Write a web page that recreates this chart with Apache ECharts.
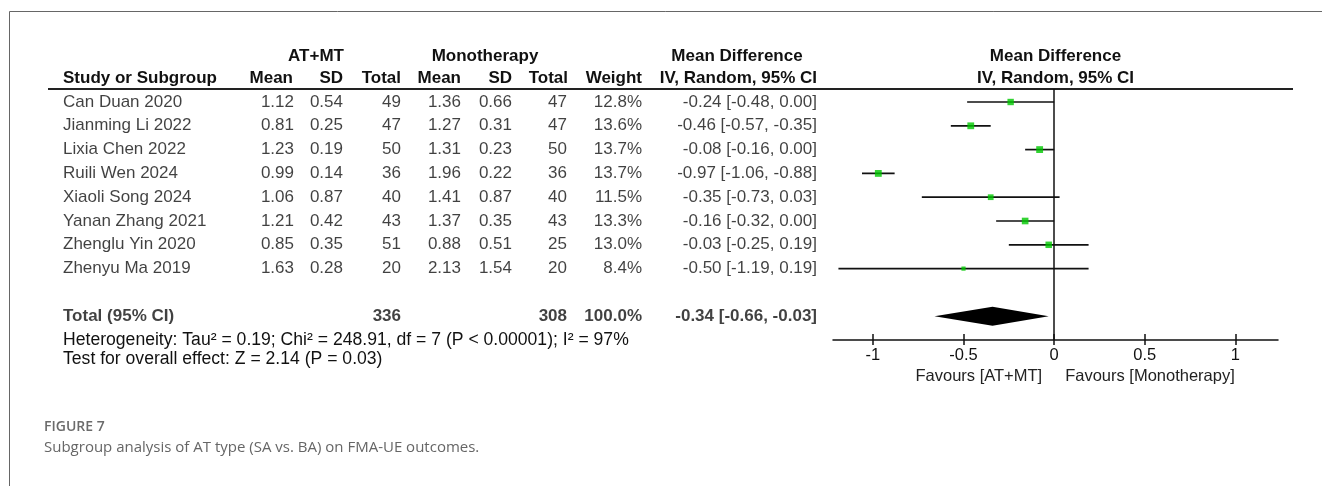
<!DOCTYPE html>
<html>
<head>
<meta charset="utf-8">
<script src="https://cdn.jsdelivr.net/npm/echarts@6/dist/echarts.min.js"></script>
<style>
  html, body { margin: 0; padding: 0; background: #fff; }
  #chart { width: 1322px; height: 486px; }
</style>
</head>
<body>
<div id="chart"></div>
<script>
// ---- Study data ----
const studies   = ['Can Duan 2020', 'Jianming Li 2022', 'Lixia Chen 2022', 'Ruili Wen 2024',
                   'Xiaoli Song 2024', 'Yanan Zhang 2021', 'Zhenglu Yin 2020', 'Zhenyu Ma 2019'];
const atMean    = [1.12, 0.81, 1.23, 0.99, 1.06, 1.21, 0.85, 1.63];
const atSD      = [0.54, 0.25, 0.19, 0.14, 0.87, 0.42, 0.35, 0.28];
const atTotal   = [49, 47, 50, 36, 40, 43, 51, 20];
const monoMean  = [1.36, 1.27, 1.31, 1.96, 1.41, 1.37, 0.88, 2.13];
const monoSD    = [0.66, 0.31, 0.23, 0.22, 0.87, 0.35, 0.51, 1.54];
const monoTotal = [47, 47, 50, 36, 40, 43, 25, 20];
const weights   = [12.8, 13.6, 13.7, 13.7, 11.5, 13.3, 13.0, 8.4];
const md        = [-0.24, -0.46, -0.08, -0.97, -0.35, -0.16, -0.03, -0.50];
const ciLow     = [-0.48, -0.57, -0.16, -1.06, -0.73, -0.32, -0.25, -1.19];
const ciHigh    = [0.00, -0.35, 0.00, -0.88, 0.03, 0.00, 0.19, 0.19];

// ---- Pooled result ----
const pooledAtTotal   = 336;
const pooledMonoTotal = 308;
const pooledWeight    = 100.0;
const pooledMd        = -0.34;
const pooledLow       = -0.66;
const pooledHigh      = -0.03;

// ---- Axis ticks ----
const xTicks = [-1, -0.5, 0, 0.5, 1];
const xMin = -1.22, xMax = 1.235;

// ---- Text ----
const heterogeneityText = 'Heterogeneity: Tau\u00b2 = 0.19; Chi\u00b2 = 248.91, df = 7 (P < 0.00001); I\u00b2 = 97%';
const overallText = 'Test for overall effect: Z = 2.14 (P = 0.03)';
const favoursLeft = 'Favours [AT+MT]';
const favoursRight = 'Favours [Monotherapy]';
const figureLabel = 'FIGURE 7';
const captionText = 'Subgroup analysis of AT type (SA vs. BA) on FMA-UE outcomes.';

// ---- Layout ----
const FONT = '"Liberation Sans", Arial, sans-serif';
const CAP_FONT = '"Open Sans", "Noto Sans", sans-serif';
const FS = 17;
const INK = '#111';
const ROW_TOP = 102, ROW_H = 23.8;
const GRID_TOP = 89, GRID_BOTTOM = 340;
const yMin = (GRID_TOP - ROW_TOP) / ROW_H;
const yMax = (GRID_BOTTOM - ROW_TOP) / ROW_H;
const TOTAL_ROW = studies.length + 1;
const PLOT_LEFT = 833, PLOT_RIGHT = 1278;

const f2 = v => v.toFixed(2);
const ciLabel = (m, l, h) => `${f2(m)} [${f2(l)}, ${f2(h)}]`;

// table columns: x position, alignment, cell text per row
const columns = [
  { x: 63,  align: 'left',  cell: i => studies[i] },
  { x: 294, align: 'right', cell: i => f2(atMean[i]) },
  { x: 343, align: 'right', cell: i => f2(atSD[i]) },
  { x: 401, align: 'right', cell: i => String(atTotal[i]) },
  { x: 461, align: 'right', cell: i => f2(monoMean[i]) },
  { x: 512, align: 'right', cell: i => f2(monoSD[i]) },
  { x: 567, align: 'right', cell: i => String(monoTotal[i]) },
  { x: 642, align: 'right', cell: i => weights[i].toFixed(1) + '%' },
  { x: 817, align: 'right', cell: i => ciLabel(md[i], ciLow[i], ciHigh[i]) }
];
const totalCells = [
  { x: 63,  align: 'left',  text: 'Total (95% CI)' },
  { x: 401, align: 'right', text: String(pooledAtTotal) },
  { x: 567, align: 'right', text: String(pooledMonoTotal) },
  { x: 642, align: 'right', text: pooledWeight.toFixed(1) + '%' },
  { x: 817, align: 'right', text: ciLabel(pooledMd, pooledLow, pooledHigh) }
];

const textSeries = (points, bold) => ({
  type: 'scatter', xAxisIndex: 2, yAxisIndex: 2, symbolSize: 0, silent: true,
  data: points.map(p => ({
    value: [p.x, p.row],
    label: {
      show: true, position: p.align === 'left' ? 'right' : 'left', distance: 0,
      formatter: p.text, color: INK, fontFamily: FONT, fontSize: FS,
      fontWeight: bold ? 'bold' : 'normal'
    }
  }))
});

const tablePoints = [];
columns.forEach(c => studies.forEach((_, i) => tablePoints.push({ x: c.x, row: i, align: c.align, text: c.cell(i) })));
const totalPoints = totalCells.map(c => ({ x: c.x, row: TOTAL_ROW, align: c.align, text: c.text }));

const chart = echarts.init(document.getElementById('chart'), null, { renderer: 'canvas' });

const plotGrid = { left: PLOT_LEFT, width: PLOT_RIGHT - PLOT_LEFT, top: GRID_TOP, height: GRID_BOTTOM - GRID_TOP };
const tickStyle = { color: INK, width: 1.5 };

const option = {
  animation: false,
  backgroundColor: '#fff',
  grid: [
    Object.assign({}, plotGrid),                      // forest plot
    Object.assign({}, plotGrid),                      // lower half of crossing ticks
    { left: 0, width: 1322, top: GRID_TOP, height: GRID_BOTTOM - GRID_TOP }   // table text
  ],
  xAxis: [
    {
      gridIndex: 0, type: 'value', min: xMin, max: xMax, position: 'bottom',
      axisLine: { show: true, onZero: false, lineStyle: { color: INK, width: 1.5 } },
      axisTick: { show: true, inside: true, length: 6, customValues: xTicks, lineStyle: tickStyle },
      axisLabel: { show: true, customValues: xTicks, margin: 7, color: INK, fontFamily: FONT, fontSize: 16.5,
                   formatter: v => String(v) },
      splitLine: { show: false }
    },
    {
      gridIndex: 1, type: 'value', min: xMin, max: xMax, position: 'bottom',
      axisLine: { show: false, onZero: false },
      axisTick: { show: true, inside: false, length: 5, customValues: xTicks, lineStyle: tickStyle },
      axisLabel: { show: false },
      splitLine: { show: false }
    },
    { gridIndex: 2, type: 'value', min: 0, max: 1322, show: false }
  ],
  yAxis: [
    { gridIndex: 0, type: 'value', inverse: true, min: yMin, max: yMax, show: false },
    { gridIndex: 1, type: 'value', inverse: true, min: yMin, max: yMax, show: false },
    { gridIndex: 2, type: 'value', inverse: true, min: yMin, max: yMax, show: false }
  ],
  series: [
    textSeries(tablePoints, false),
    textSeries(totalPoints, true),
    {
      // confidence interval whiskers
      type: 'custom', xAxisIndex: 0, yAxisIndex: 0, silent: true,
      data: studies.map((_, i) => [ciLow[i], ciHigh[i], i]),
      renderItem: (params, api) => {
        const a = api.coord([api.value(0), api.value(2)]);
        const b = api.coord([api.value(1), api.value(2)]);
        return { type: 'line', shape: { x1: a[0], y1: a[1], x2: b[0], y2: b[1] },
                 style: { stroke: INK, lineWidth: 1.7 } };
      },
      markLine: {
        silent: true, symbol: 'none', label: { show: false },
        lineStyle: { color: INK, width: 1.5, type: 'solid' },
        data: [{ xAxis: 0 }]
      }
    },
    {
      // study point estimates, square size from weight
      type: 'scatter', xAxisIndex: 0, yAxisIndex: 0, symbol: 'rect', silent: true,
      data: studies.map((_, i) => [md[i], i, weights[i]]),
      symbolSize: v => v[2] * 0.5,
      itemStyle: { color: '#00c800' }
    },
    {
      // pooled estimate diamond
      type: 'custom', xAxisIndex: 0, yAxisIndex: 0, silent: true,
      data: [[pooledLow, pooledMd, pooledHigh, TOTAL_ROW]],
      renderItem: (params, api) => {
        const r = api.value(3);
        const l = api.coord([api.value(0), r]);
        const m = api.coord([api.value(1), r]);
        const h = api.coord([api.value(2), r]);
        const half = 9.5;
        return { type: 'polygon',
                 shape: { points: [[l[0], l[1]], [m[0], m[1] - half], [h[0], h[1]], [m[0], m[1] + half]] },
                 style: { fill: '#000' } };
      }
    }
  ],
  graphic: []
};

chart.setOption(option);

// header, footer and caption text
const zeroX = chart.convertToPixel({ xAxisIndex: 0 }, 0);
const plotMid = (PLOT_LEFT + PLOT_RIGHT) / 2;
const txt = (x, y, text, align, bold, extra) => ({
  type: 'text', x, y, silent: true,
  style: Object.assign({ text, fill: INK, font: `${bold ? 'bold ' : ''}${FS}px ${FONT}`,
                         align, verticalAlign: 'middle' }, extra || {})
});

const graphics = [
  // frame
  { type: 'line', shape: { x1: 9.5, y1: 11.5, x2: 1322, y2: 11.5 }, style: { stroke: '#666', lineWidth: 1 } },
  { type: 'line', shape: { x1: 9.5, y1: 11.5, x2: 9.5, y2: 486 }, style: { stroke: '#666', lineWidth: 1 } },
  // header rule
  { type: 'line', shape: { x1: 48, y1: GRID_TOP, x2: 1293, y2: GRID_TOP }, style: { stroke: '#222', lineWidth: 2 } },
  // header row 1
  txt(316, 56, 'AT+MT', 'center', true),
  txt(485, 56, 'Monotherapy', 'center', true),
  txt(737, 56, 'Mean Difference', 'center', true),
  txt(plotMid, 56, 'Mean Difference', 'center', true),
  // header row 2
  txt(63, 78, 'Study or Subgroup', 'left', true),
  txt(293, 78, 'Mean', 'right', true),
  txt(343, 78, 'SD', 'right', true),
  txt(401, 78, 'Total', 'right', true),
  txt(461, 78, 'Mean', 'right', true),
  txt(512, 78, 'SD', 'right', true),
  txt(568, 78, 'Total', 'right', true),
  txt(642, 78, 'Weight', 'right', true),
  txt(817, 78, 'IV, Random, 95% CI', 'right', true),
  txt(plotMid, 78, 'IV, Random, 95% CI', 'center', true),
  // footer statistics
  txt(63, 340, heterogeneityText, 'left', false, { font: `17.6px ${FONT}` }),
  txt(63, 359, overallText, 'left', false, { font: `17.6px ${FONT}` }),
  // favours labels
  txt(zeroX - 12, 376, favoursLeft, 'right', false, { font: `16.5px ${FONT}`, fill: '#222' }),
  txt(zeroX + 11, 376, favoursRight, 'left', false, { font: `16.5px ${FONT}`, fill: '#222' }),
  // caption
  txt(44, 427, figureLabel, 'left', false, { font: `600 14px ${CAP_FONT}`, fill: '#6b6b6b' }),
  txt(44, 448, captionText, 'left', false, { font: `15px ${CAP_FONT}`, fill: '#666' })
];
chart.setOption({ graphic: graphics });
</script>
</body>
</html>
